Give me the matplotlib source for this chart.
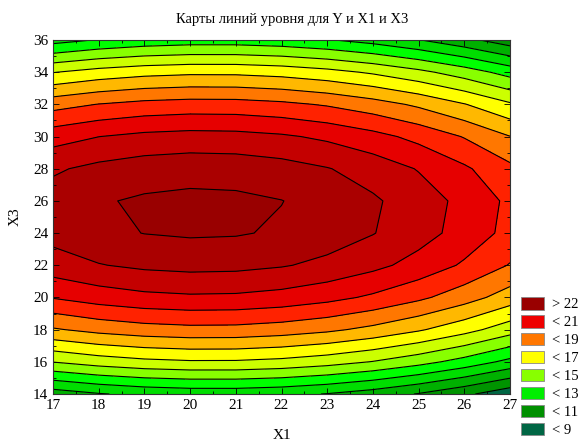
import numpy as np
from matplotlib import pyplot as plt
from matplotlib.patches import Patch
from matplotlib.ticker import MultipleLocator

plt.rcParams['font.family'] = ['Liberation Serif', 'DejaVu Serif']

# grid (rows: X3, columns: X1)
x1 = [17, 18, 19, 20, 21, 22, 23, 24, 25, 26, 27]
x3 = [14, 16, 18, 20, 22, 24, 26, 28, 30, 32, 34, 36]
y_vals = [
    [10.48, 10.93, 11.23, 11.38, 11.39, 11.25, 10.96, 10.53, 9.94, 9.21, 8.34],
    [14.03, 14.46, 14.75, 14.89, 14.88, 14.72, 14.41, 13.96, 13.36, 12.62, 11.72],
    [16.89, 17.31, 17.58, 17.71, 17.69, 17.51, 17.20, 16.73, 16.12, 15.36, 14.45],
    [19.06, 19.47, 19.74, 19.85, 19.82, 19.64, 19.31, 18.83, 18.21, 17.44, 16.52],
    [20.55, 20.95, 21.20, 21.31, 21.27, 21.08, 20.75, 20.27, 19.64, 18.86, 17.94],
    [21.34, 21.76, 22.02, 22.12, 22.08, 21.88, 21.52, 21.04, 20.40, 19.62, 18.69],
    [21.44, 21.90, 22.14, 22.24, 22.20, 22.02, 21.64, 21.14, 20.50, 19.72, 18.79],
    [20.86, 21.26, 21.51, 21.62, 21.58, 21.39, 21.05, 20.57, 19.94, 19.16, 18.23],
    [19.58, 19.99, 20.25, 20.36, 20.32, 20.14, 19.81, 19.33, 18.71, 17.94, 17.02],
    [17.62, 18.03, 18.30, 18.42, 18.40, 18.22, 17.90, 17.43, 16.82, 16.05, 15.14],
    [14.96, 15.39, 15.67, 15.80, 15.79, 15.63, 15.32, 14.86, 14.26, 13.51, 12.61],
    [11.62, 12.06, 12.36, 12.51, 12.51, 12.36, 12.07, 11.63, 11.04, 10.30, 9.42],
]

levels = [0, 9, 10, 11, 12, 13, 14, 15, 16, 17, 18, 19, 20, 21, 22, 40]
band_colors = ['#006644', '#009400', '#00b000', '#00dd00', '#00ff00', '#88ff00',
               '#ccff00', '#ffff00', '#ffb800', '#ff7700', '#ff2200', '#e60000',
               '#c40000', '#aa0000', '#990000']

legend_labels = ['> 22', '< 21', '< 19', '< 17', '< 15', '< 13', '< 11', '< 9']
legend_colors = ['#990000', '#ee0000', '#ff7700', '#ffff00', '#88ff00', '#00ee00',
                 '#009000', '#006644']

fig = plt.figure(figsize=(5.85, 4.4), dpi=100)
ax = fig.add_axes([53/585, 46/440, 457/585, 354/440])

X, Y = np.meshgrid(x1, x3)
Z = np.array(y_vals)
ax.contourf(X, Y, Z, levels=levels, colors=band_colors)
ax.contour(X, Y, Z, levels=levels[1:-1], colors='black', linewidths=0.8)

ax.set_xlim(17, 27)
ax.set_ylim(14, 36)
ax.xaxis.set_major_locator(MultipleLocator(1))
ax.yaxis.set_major_locator(MultipleLocator(2))
ax.xaxis.set_minor_locator(MultipleLocator(0.5))
ax.yaxis.set_minor_locator(MultipleLocator(1))
ax.tick_params(which='both', direction='in', top=True, right=True, labelsize=11)
ax.tick_params(which='major', length=4, width=0.6)
ax.tick_params(which='minor', length=2, width=0.6)
for s in ax.spines.values():
    s.set_linewidth(0.8)
    s.set_color('#333333')

ax.set_xlabel('X1', fontsize=11, labelpad=12)
ax.set_ylabel('X3', fontsize=11, labelpad=8)
fig.text(0.5, 1 - 20/440, 'Карты линий уровня для Y и X1 и X3', ha='center', va='center',
         fontsize=10.5)

handles = [Patch(facecolor=c, edgecolor='#888888', linewidth=0.6) for c in legend_colors]
fig.legend(handles, legend_labels, loc='upper left', bbox_to_anchor=(521/585, 1 - 297/440),
           frameon=False, fontsize=10.5, handlelength=1.55, handleheight=0.95,
           labelspacing=0.25, borderpad=0, borderaxespad=0, handletextpad=0.55)

fig.savefig('out.png', dpi=100)
